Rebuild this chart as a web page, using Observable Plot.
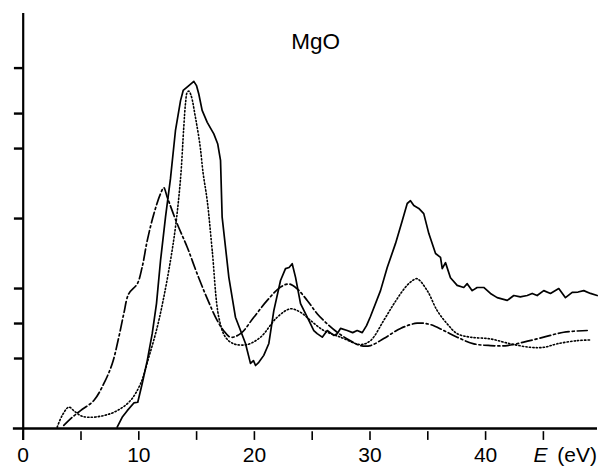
<!DOCTYPE html>
<html><head><meta charset="utf-8">
<script src="https://cdn.jsdelivr.net/npm/d3@7"></script>
<script src="https://cdn.jsdelivr.net/npm/@observablehq/plot@0.6"></script>
<style>body{margin:0;background:#fff} svg{display:block}</style>
</head><body><div id="chart"></div>
<script>
const title = "MgO";
const xTicks = [0,5,10,15,20,25,30,35,40,45];
const xLabels = [0,10,20,30,40];
const yTicks = [2,3,4,6,8,9,10.3];

// solid curve
const solidE = [8.13,8.56,9.00,9.57,9.91,10.29,10.73,11.16,11.53,11.88,12.31,12.74,13.17,13.61,13.84,14.33,14.76,14.99,15.19,15.48,15.92,16.49,16.83,17.07,17.21,17.79,18.36,18.80,19.23,19.66,19.92,20.1,20.38,20.81,21.25,21.68,22.26,22.69,23.0,23.27,23.56,23.99,24.57,25.14,25.43,25.87,26.30,26.87,27.16,27.45,28.03,28.5,28.89,29.33,29.70,30.04,30.91,31.49,32.21,32.79,33.22,33.50,33.79,34.22,34.65,35.09,35.67,36.10,36.25,36.53,36.96,37.54,38.11,38.41,38.84,39.27,39.84,40.42,41.00,41.87,42.44,43.0,43.60,44.03,44.46,45.03,45.61,46.33,46.91,47.49,48.0,48.49,49.07,49.65];
const solidY = [0.04,0.32,0.51,0.73,0.75,1.28,1.94,2.71,3.57,4.80,6.04,7.14,8.51,9.37,9.66,9.80,9.92,9.80,9.56,9.09,8.75,8.42,8.13,7.66,6.04,4.32,3.18,2.80,2.43,1.86,1.94,1.80,1.89,2.09,2.43,3.37,4.23,4.57,4.60,4.71,4.32,3.57,3.18,2.80,2.71,2.61,2.80,2.66,2.71,2.86,2.80,2.74,2.80,2.74,2.94,3.20,3.94,4.60,5.29,5.94,6.43,6.51,6.37,6.29,6.14,5.57,5.00,4.89,4.57,4.74,4.31,4.09,4.03,4.14,3.94,4.03,4.03,3.86,3.74,3.66,3.80,3.76,3.80,3.86,3.80,3.94,3.86,4.00,3.74,3.89,3.90,3.94,3.86,3.80];

// dotted curve
const dotE = [2.94,3.37,3.94,4.44,4.96,5.67,6.97,8.13,9.28,10.15,10.87,11.59,12.16,12.74,13.17,13.61,13.89,14.04,14.19,14.33,14.53,14.90,15.28,15.57,15.92,16.35,16.92,17.50,18.22,19.38,20.53,21.97,23.12,23.99,24.85,26.00,27.45,29.18,30.04,31.19,32.06,33.07,33.68,34.08,34.95,35.81,36.68,37.54,38.69,40.42,42.15,43.88,45.03,46.19,47.92,49.01];
const dotY = [0.04,0.37,0.61,0.49,0.37,0.32,0.37,0.51,0.80,1.28,2.04,2.89,3.75,4.80,5.75,7.14,8.61,9.29,9.61,9.64,9.51,8.89,8.13,7.28,6.51,5.09,3.18,2.61,2.42,2.40,2.61,3.18,3.42,3.32,3.09,2.80,2.61,2.40,2.51,3.09,3.56,4.04,4.23,4.28,3.94,3.37,2.99,2.71,2.61,2.56,2.42,2.32,2.32,2.42,2.51,2.53];

// dash-dot curve
const ddE = [3.51,4.24,4.96,6.11,6.97,7.70,8.27,8.70,9.13,9.86,10.29,10.73,11.30,11.88,12.16,12.46,13.32,14.19,15.05,15.92,16.78,17.33,17.93,18.80,19.95,21.11,22.26,22.98,23.70,24.57,25.43,26.30,27.16,28.03,29.18,30.04,31.19,32.64,34.08,35.23,36.38,37.54,38.98,40.42,41.87,43.30,45.03,46.76,48.79];
const ddY = [0.09,0.32,0.51,0.80,1.28,1.85,2.61,3.28,3.85,4.13,4.61,5.37,6.13,6.71,6.88,6.61,5.85,5.18,4.42,3.71,3.09,2.80,2.61,2.71,3.18,3.66,4.04,4.13,3.99,3.66,3.28,2.99,2.75,2.56,2.37,2.37,2.57,2.86,3.01,2.97,2.80,2.61,2.42,2.37,2.37,2.47,2.61,2.75,2.80];

const rows = (E, Y) => E.map((e, i) => ({E: e, v: Y[i]}));

const chart = Plot.plot({
  width: 602, height: 466,
  marginLeft: 22.7, marginRight: 5, marginTop: 13, marginBottom: 38,
  x: {domain: [0, 49.68], axis: null},
  y: {domain: [0, 11.86], axis: null},
  style: {fontFamily: "'Liberation Sans', Arial, sans-serif", background: "white", color: "black"},
  marks: [
    Plot.ruleY([0], {x1: -0.85, x2: 49.68, strokeWidth: 2.6}),
    Plot.ruleX([0], {y1: -0.34, y2: 11.86, strokeWidth: 2.2}),
    Plot.ruleX(xTicks, {y1: -0.09, y2: -0.34, strokeWidth: 1.6}),
    Plot.ruleY(yTicks, {x1: -0.76, x2: 0, strokeWidth: 2.4}),
    Plot.text(xLabels, {x: d => d, y: 0, dy: 26.3, fontSize: 21, text: d => String(d)}),
    Plot.text(["E"], {x: 44.14, y: 0, dy: 26.3, fontSize: 21, fontStyle: "italic", textAnchor: "start"}),
    Plot.text(["(eV)"], {x: 46.2, y: 0, dy: 26.3, fontSize: 21, textAnchor: "start"}),
    Plot.text([title], {x: 25.29, y: 11.06, fontSize: 22.5}),
    Plot.line(rows(ddE, ddY), {x: "E", y: "v", curve: "catmull-rom", strokeWidth: 1.7, strokeDasharray: "11,3,2,3"}),
    Plot.line(rows(dotE, dotY), {x: "E", y: "v", curve: "catmull-rom", strokeWidth: 1.6, strokeDasharray: "1.3,2.2"}),
    Plot.line(rows(solidE, solidY), {x: "E", y: "v", curve: "linear", strokeWidth: 1.7})
  ]
});
document.getElementById("chart").append(chart);
</script>
</body></html>
